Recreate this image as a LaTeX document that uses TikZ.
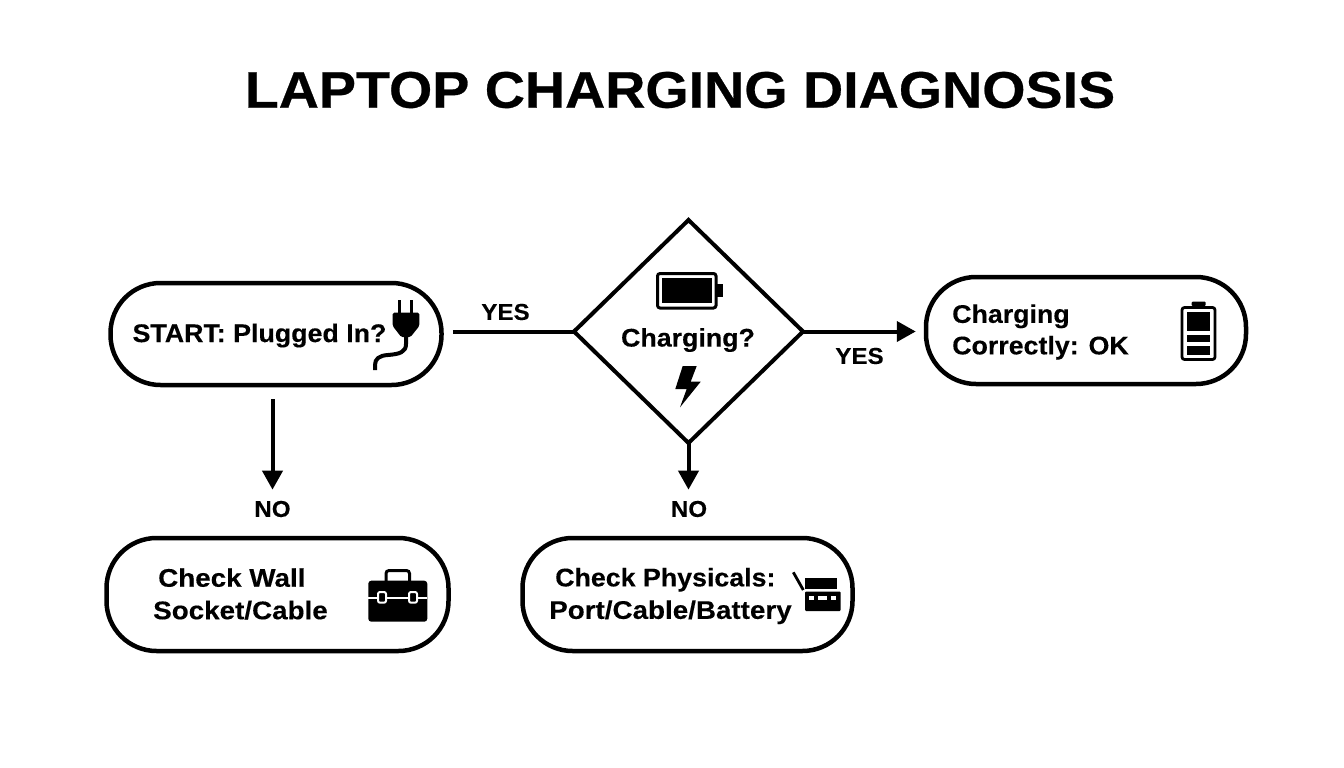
\documentclass[tikz,border=0pt]{standalone}
\usepackage{fontspec}
\setmainfont{Liberation Sans}
\newfontfamily\titlefont[FakeStretch=1.08,FakeBold=0.5]{Liberation Sans Bold}
\newfontfamily\bodyfont[FakeStretch=1.05,FakeBold=0.25]{Liberation Sans}
\newfontfamily\widefont[FakeStretch=1.09,FakeBold=0.25]{Liberation Sans}
\usetikzlibrary{shapes.geometric,arrows.meta}
\tikzset{
  flowbox/.style={draw=black,fill=white,line width=4.5pt,rounded corners=50pt,inner sep=0pt},
  decision/.style={draw=black,fill=white,line width=4pt,shape=diamond,inner sep=0pt,outer sep=0pt,aspect=1.03},
  boxtext/.style={font=\bodyfont\fontsize{25.5}{31.5}\selectfont\bfseries,inner sep=0pt,align=left,text=black},
  widetext/.style={boxtext,font=\widefont\fontsize{25.5}{32.5}\selectfont\bfseries},
  smalllabel/.style={font=\bodyfont\fontsize{23}{28}\selectfont\bfseries,inner sep=0pt,text=black},
  link/.style={draw=black,line width=4pt},
  arrowlink/.style={link,-{Triangle[length=19pt,width=20pt]}}
}
\begin{document}
\begin{tikzpicture}[x=1pt,y=-1pt]
\useasboundingbox (0,0) rectangle (1344,768);
\fill[white] (0,0) rectangle (1344,768);
\node[font=\titlefont\fontsize{51.5}{60}\selectfont,inner sep=0pt] (title) at (680,90) {LAPTOP CHARGING DIAGNOSIS};
% shapes
\node[flowbox,minimum width=331pt,minimum height=102pt] (start) at (276,334) {};
\node[flowbox,minimum width=320pt,minimum height=107pt] (ok) at (1086,330.5) {};
\node[flowbox,minimum width=342pt,minimum height=113pt] (wall) at (277.5,594.5) {};
\node[flowbox,minimum width=330pt,minimum height=113pt] (phys) at (687.5,594.5) {};
\node[decision,minimum width=229pt,minimum height=223pt] (diamond) at (688.5,331.5) {};
% text
\node[boxtext] (starttext) at (259.5,335.5) {START: Plugged In?};
\node[boxtext,anchor=west] (oktext) at (952,332) {Charging\\Correctly: OK};
\node[widetext,anchor=west] (walltext) at (153,594) {\hspace{5pt}Check Wall\\Socket/Cable};
\node[widetext,anchor=west] (phystext) at (549,596) {\hspace{6pt}{\bodyfont Check Physicals:}\\Port/Cable/Battery};
\node[boxtext] (chargetext) at (688,340) {Charging?};
% labels
\node[smalllabel] (yes1) at (505.5,312) {YES};
\node[smalllabel] (yes2) at (859.5,356) {YES};
\node[smalllabel] (no1) at (272.5,509) {NO};
\node[smalllabel] (no2) at (689,509) {NO};
% connectors
\draw[link,shorten <=9pt] (start.east |- diamond.west) -- (diamond.west);
\draw[arrowlink,shorten >=8pt] (diamond.east) -- (ok.west |- diamond.east);
\draw[arrowlink,shorten <=12pt,shorten >=11pt] (no1.north |- start.south) -- (no1.north);
\draw[arrowlink,shorten >=11pt] (diamond.south) -- (diamond.south |- no2.north);
% plug icon
\draw[black,line width=3.2pt] (399.3,300) -- (399.3,314) (411.7,300) -- (411.7,314);
\fill[black,rounded corners=1.5pt] (392.7,312.7) -- (419.3,312.7) -- (419.3,326) -- (410.5,337) -- (401.2,337) -- (392.7,326) -- cycle;
\draw[black,line width=4pt] (406,336) -- (406,344) .. controls (406,352) and (400,354) .. (388,355) .. controls (379,355.5) and (375,359) .. (375,365) -- (375,370);
% diamond battery
\draw[black,line width=3pt,rounded corners=2.5pt] (657.5,273.5) rectangle (716,308);
\fill[black] (661.5,278) rectangle (712.3,303);
\fill[black] (717,284) rectangle (722.7,297.3);
% bolt
\fill[black] (682.7,366) -- (696.7,366) -- (690.7,381.7) -- (700.7,381.7) -- (680,407.3) -- (686.7,389) -- (675.3,389) -- cycle;
% ok battery
\draw[black,line width=2.8pt,rounded corners=2.5pt] (1182,307.5) rectangle (1215,359.5);
\fill[black,rounded corners=1pt] (1191.7,306) -- (1191.7,301.7) -- (1205.7,301.7) -- (1205.7,306) -- cycle;
\fill[black] (1187,312) rectangle (1210,331);
\fill[black] (1187,335) rectangle (1210,342.3);
\fill[black] (1187,346.3) rectangle (1210,354.7);
% toolbox
\draw[black,line width=3pt,rounded corners=3pt] (386,581) -- (386,570.5) -- (409.5,570.5) -- (409.5,581);
\fill[black,rounded corners=3pt] (368.3,580.7) rectangle (427.3,621.7);
\draw[white,line width=2pt] (368.3,597.5) -- (427.3,597.5);
\draw[white,fill=black,line width=2pt,rounded corners=2pt] (378,592) rectangle (386,602.7);
\draw[white,fill=black,line width=2pt,rounded corners=2pt] (409,592) rectangle (417,602.7);
% physicals icon
\draw[black,line width=2.8pt] (793.3,572.3) -- (803.3,590);
\fill[black] (805,577.7) rectangle (836.7,589);
\fill[black,rounded corners=1pt] (805,591.7) rectangle (840.7,611);
\fill[white] (809.3,596) rectangle (814,600);
\fill[white] (818.3,596) rectangle (826.7,600);
\fill[white] (830.7,596) rectangle (835.7,600);
\end{tikzpicture}
\end{document}
